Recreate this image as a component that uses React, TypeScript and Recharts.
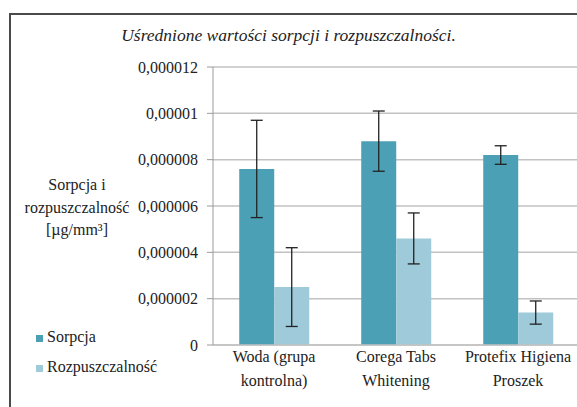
import React from 'react';
import {
  BarChart,
  Bar,
  XAxis,
  YAxis,
  CartesianGrid,
  ErrorBar,
  Label,
} from 'recharts';

const categories = ['Woda (grupa\nkontrolna)', 'Corega Tabs\nWhitening', 'Protefix Higiena\nProszek'];
const sorpcja = [0.0000076, 0.0000088, 0.0000082];
const sorpcjaErr = [0.0000021, 0.0000013, 0.0000004];
const rozpuszczalnosc = [0.0000025, 0.0000046, 0.0000014];
const rozpuszczalnoscErr = [0.0000017, 0.0000011, 0.0000005];
const yTicks = [0, 0.000002, 0.000004, 0.000006, 0.000008, 0.00001, 0.000012];
const seriesNames = ['Sorpcja', 'Rozpuszczalność'];
const seriesColors = ['#4ba0b6', '#9ecad9'];
const title = 'Uśrednione wartości sorpcji i rozpuszczalności.';
const yLabelLines = ['Sorpcja i', 'rozpuszczalność', '[µg/mm³]'];

const FONT = "'Liberation Serif', 'DejaVu Serif', serif";

const data = categories.map((name, i) => ({
  name,
  sorpcja: sorpcja[i],
  sorpcjaErr: sorpcjaErr[i],
  rozp: rozpuszczalnosc[i],
  rozpErr: rozpuszczalnoscErr[i],
}));

const fmt = (v: number) =>
  v === 0 ? '0' : parseFloat(v.toFixed(6)).toString().replace('.', ',');

function CategoryTick({ x, y, payload }: any) {
  const lines = String(payload.value).split('\n');
  return (
    <text x={x} y={y} textAnchor="middle" fill="#222" fontSize={16} style={{ fontFamily: FONT }}>
      {lines.map((l, i) => (
        <tspan key={i} x={x} dy={i === 0 ? 17 : 24}>
          {l}
        </tspan>
      ))}
    </text>
  );
}

function YTitle({ viewBox }: any) {
  const cx = 77;
  const top = viewBox.y + 123;
  return (
    <text x={cx} y={top} textAnchor="middle" fill="#222" fontSize={16} style={{ fontFamily: FONT }}>
      {yLabelLines.map((l, i) => (
        <tspan key={i} x={cx} dy={i === 0 ? 0 : 22.5}>
          {l}
        </tspan>
      ))}
    </text>
  );
}

export default function App() {
  return (
    <div
      style={{
        position: 'absolute',
        left: 0,
        top: 0,
        width: 577,
        height: 407,
        overflow: 'hidden',
        background: '#fff',
        fontFamily: FONT,
      }}
    >
      <div
        style={{
          position: 'absolute',
          left: 9,
          top: 13,
          width: 620,
          height: 430,
          border: '2px solid #4a4a4a',
        }}
      />
      <div
        style={{
          position: 'absolute',
          left: 0,
          width: 577,
          top: 26,
          textAlign: 'center',
          fontStyle: 'italic',
          fontSize: 17.5,
          lineHeight: '18px',
          color: '#222',
        }}
      >
        {title}
      </div>
      <div style={{ position: 'absolute', left: 0, top: 0 }}>
        <BarChart
          width={600}
          height={407}
          data={data}
          margin={{ top: 67, right: 21, left: 0, bottom: 0 }}
          barCategoryGap="21.5%"
          barGap={0}
        >
          <CartesianGrid horizontal vertical={false} stroke="#c2c2c2" strokeWidth={1.5} />
          <XAxis
            xAxisId="ticks"
            type="number"
            domain={[0, 3]}
            ticks={[0, 1, 2, 3]}
            tick={false}
            axisLine={false}
            tickLine={{ stroke: '#9a9a9a' }}
            tickSize={5}
            height={0}
          />
          <XAxis
            dataKey="name"
            interval={0}
            height={62}
            tickLine={false}
            tickSize={0}
            tickMargin={0}
            axisLine={{ stroke: '#c2c2c2', strokeWidth: 1.5 }}
            tick={<CategoryTick />}
          />
          <YAxis
            width={213}
            domain={[0, 0.000012]}
            ticks={yTicks}
            tickFormatter={fmt}
            tickSize={6}
            tickMargin={9}
            axisLine={{ stroke: '#9a9a9a' }}
            tickLine={{ stroke: '#9a9a9a' }}
            tick={{ fill: '#222', fontSize: 16, style: { fontFamily: FONT } }}
          >
            <Label content={<YTitle />} />
          </YAxis>
          <Bar dataKey="sorpcja" fill={seriesColors[0]} isAnimationActive={false}>
            <ErrorBar dataKey="sorpcjaErr" stroke="#222" strokeWidth={1.3} width={6} />
          </Bar>
          <Bar dataKey="rozp" fill={seriesColors[1]} isAnimationActive={false}>
            <ErrorBar dataKey="rozpErr" stroke="#222" strokeWidth={1.3} width={6} />
          </Bar>
        </BarChart>
      </div>
      {seriesNames.map((n, i) => (
        <div
          key={n}
          style={{
            position: 'absolute',
            left: 36,
            top: 329 + i * 30,
            fontSize: 16,
            lineHeight: '16px',
            color: '#222',
            display: 'flex',
            alignItems: 'flex-end',
            whiteSpace: 'nowrap',
          }}
        >
          <span
            style={{
              display: 'inline-block',
              width: 7,
              height: 7,
              background: seriesColors[i],
              marginRight: 4,
              marginBottom: 3,
            }}
          />
          {n}
        </div>
      ))}
    </div>
  );
}
